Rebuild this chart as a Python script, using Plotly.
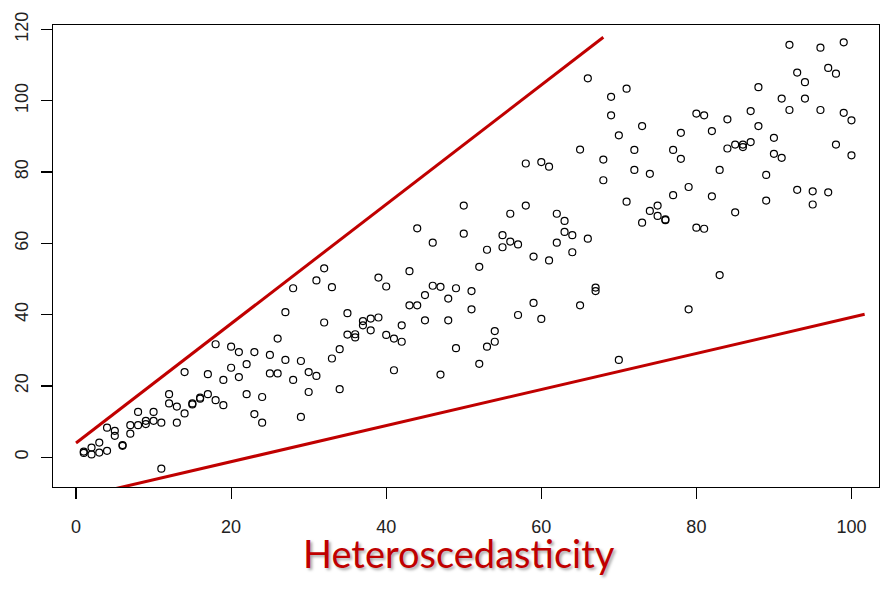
import plotly.graph_objects as go

# ---------------- data ----------------
x_values = list(range(1, 101))
y_first = [1.2, 2.7, 4.1, 8.3, 7.4, 3.4, 9.0, 12.7, 10.2, 12.7,
           -3.2, 17.7, 14.2, 23.9, 15.1, 16.4, 23.3, 31.7, 21.7, 31.0,
           29.5, 26.1, 29.5, 16.9, 28.7, 33.3, 40.7, 47.4, 27.0, 23.9,
           49.6, 53.0, 47.7, 30.3, 40.4, 34.5, 38.2, 38.9, 50.4, 47.9,
           33.3, 37.0, 52.2, 64.2, 45.5, 60.2, 47.8, 44.5, 47.4, 70.6,
           46.6, 53.4, 58.2, 35.4, 62.3, 68.3, 59.7, 82.4, 56.3, 82.8,
           81.5, 68.3, 66.3, 62.3, 86.3, 106.3, 47.6, 83.5, 101.1, 90.3,
           103.4, 86.2, 92.9, 79.5, 70.6, 66.7, 86.2, 91.0, 75.8, 96.4,
           95.9, 91.5, 80.6, 94.8, 87.7, 87.7, 97.1, 103.8, 79.2, 89.6,
           100.6, 115.7, 107.9, 105.2, 74.6, 114.9, 109.2, 107.6, 116.4, 94.5]
y_second = [1.6, 0.8, 1.3, 1.8, 6.0, 3.2, 6.6, 9.0, 9.3, 10.2,
            9.7, 15.1, 9.7, 12.3, 14.8, 16.7, 17.7, 16.0, 14.6, 25.1,
            22.5, 17.7, 12.1, 9.7, 23.5, 23.5, 27.3, 21.7, 11.3, 18.3,
            22.8, 37.8, 27.7, 19.1, 34.4, 33.6, 37.0, 35.6, 39.2, 34.3,
            24.4, 32.4, 42.6, 42.6, 38.4, 48.1, 23.2, 38.4, 30.6, 62.7,
            41.5, 26.2, 31.0, 32.4, 58.9, 60.5, 39.9, 70.6, 43.3, 38.8,
            55.2, 60.2, 63.2, 57.5, 42.6, 61.3, 46.6, 77.7, 95.9, 27.3,
            71.7, 80.6, 65.8, 69.1, 67.7, 66.5, 73.5, 83.7, 41.5, 64.4,
            64.1, 73.2, 51.1, 86.6, 68.7, 87.0, 88.4, 92.9, 72.0, 85.1,
            84.0, 97.4, 75.0, 100.6, 70.9, 97.4, 74.3, 87.7, 96.6, 84.7]

upper_line_x = [0.0, 68.0]
upper_line_y = [4.0, 117.8]
lower_line_x = [4.5, 101.7]
lower_line_y = [-9.1, 40.1]

x_ticks = [0, 20, 40, 60, 80, 100]
y_ticks = [0, 20, 40, 60, 80, 100, 120]
title_text = "Heteroscedasticity"

# ---------------- figure ----------------
RED = "#C00000"
fig = go.Figure()

marker_style = dict(symbol="circle-open", size=7, color="black",
                    line=dict(width=1.2, color="black"))
fig.add_trace(go.Scatter(x=x_values, y=y_first, mode="markers",
                         marker=marker_style, showlegend=False))
fig.add_trace(go.Scatter(x=x_values, y=y_second, mode="markers",
                         marker=marker_style, showlegend=False))

fig.add_trace(go.Scatter(x=upper_line_x, y=upper_line_y, mode="lines",
                         line=dict(color=RED, width=3), showlegend=False))
fig.add_trace(go.Scatter(x=lower_line_x, y=lower_line_y, mode="lines",
                         line=dict(color=RED, width=3), showlegend=False))

tick_font = dict(family="Liberation Sans, Arial, sans-serif", size=18, color="#222222")
axis_common = dict(showgrid=False, zeroline=False, showline=True, mirror=True,
                   linecolor="black", linewidth=1.3, ticks="outside", ticklen=11,
                   tickwidth=1.2, tickcolor="black", tickfont=tick_font,
                   automargin=False)

fig.update_xaxes(range=[-2.97, 103.55], tickvals=x_ticks, ticklabelstandoff=12,
                 **axis_common)
fig.update_yaxes(range=[-8.35, 121.25], tickvals=y_ticks, tickangle=-90,
                 ticklabelstandoff=6, **axis_common)

fig.add_annotation(text=title_text, xref="paper", yref="paper",
                   x=0.491, y=-0.143, xanchor="center", yanchor="middle",
                   showarrow=False,
                   font=dict(family="Lato, 'Open Sans', sans-serif", size=38,
                             color=RED, shadow="2px 2px 3px rgba(0,0,0,0.35)"))

fig.update_layout(width=895, height=605,
                  margin=dict(l=53, r=16, t=25, b=118),
                  paper_bgcolor="white", plot_bgcolor="white",
                  hovermode=False)

fig.write_html("out.html", config={"displayModeBar": False, "staticPlot": True},
               post_script="document.body.style.margin='0px';document.body.style.overflow='hidden';")
